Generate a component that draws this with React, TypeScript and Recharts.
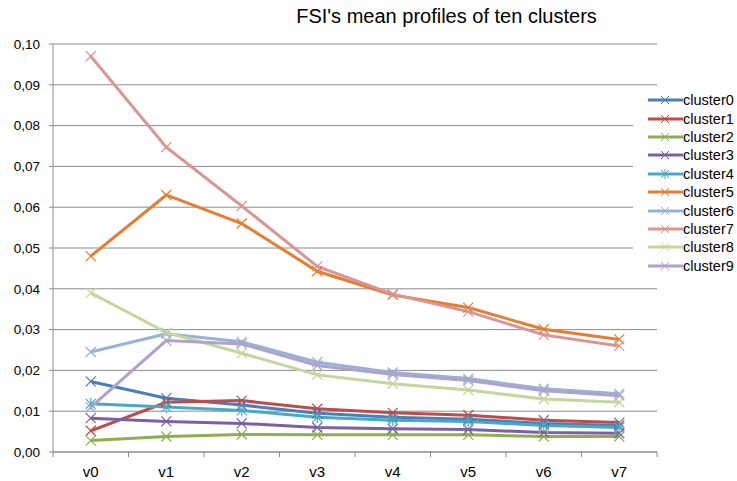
import { LineChart, Line, XAxis, YAxis, CartesianGrid } from "recharts";

// categories + one array per cluster
const categories = ["v0", "v1", "v2", "v3", "v4", "v5", "v6", "v7"];
const cluster0 = [0.0173, 0.0132, 0.0115, 0.0095, 0.0085, 0.008, 0.007, 0.0065];
const cluster1 = [0.0052, 0.0122, 0.0126, 0.0106, 0.0096, 0.009, 0.0078, 0.0072];
const cluster2 = [0.0028, 0.0038, 0.0043, 0.0042, 0.0042, 0.0042, 0.0038, 0.0038];
const cluster3 = [0.0083, 0.0075, 0.007, 0.006, 0.0057, 0.0055, 0.0048, 0.0046];
const cluster4 = [0.0118, 0.011, 0.0102, 0.0085, 0.0078, 0.0075, 0.0065, 0.006];
const cluster5 = [0.048, 0.063, 0.056, 0.0443, 0.0385, 0.0354, 0.0301, 0.0276];
const cluster6 = [0.0245, 0.029, 0.027, 0.022, 0.0195, 0.018, 0.0155, 0.0143];
const cluster7 = [0.097, 0.0747, 0.0603, 0.0455, 0.0387, 0.0344, 0.0287, 0.026];
const cluster8 = [0.039, 0.0293, 0.0242, 0.0189, 0.0167, 0.0152, 0.013, 0.0122];
const cluster9 = [0.011, 0.0273, 0.0265, 0.0212, 0.019, 0.0175, 0.015, 0.0138];
const yTicks = [0, 0.01, 0.02, 0.03, 0.04, 0.05, 0.06, 0.07, 0.08, 0.09, 0.1];

const series = [
  { name: "cluster0", values: cluster0, color: "#4A7EBB" },
  { name: "cluster1", values: cluster1, color: "#BE4B48" },
  { name: "cluster2", values: cluster2, color: "#8DB04E" },
  { name: "cluster3", values: cluster3, color: "#7D60A0" },
  { name: "cluster4", values: cluster4, color: "#46AAC5", star: true },
  { name: "cluster5", values: cluster5, color: "#E57D32" },
  { name: "cluster6", values: cluster6, color: "#95B3D7" },
  { name: "cluster7", values: cluster7, color: "#D99694" },
  { name: "cluster8", values: cluster8, color: "#C3D69B" },
  { name: "cluster9", values: cluster9, color: "#B3A2C7" },
];

const data = categories.map((c, i) => {
  const row: any = { name: c };
  series.forEach((s) => (row[s.name] = s.values[i]));
  return row;
});

const font = "'Liberation Sans', Arial, sans-serif";
const axisGray = "#8C8C8C";

// Excel style "x" marker (cluster4 gets the asterisk)
const makeDot = (color: string, star?: boolean) => (props: any) => {
  const { cx, cy, index } = props;
  const r = 5;
  return (
    <g key={`dot-${index}`} stroke={color} strokeWidth={1.2} fill="none">
      <line x1={cx - r} y1={cy - r} x2={cx + r} y2={cy + r} />
      <line x1={cx - r} y1={cy + r} x2={cx + r} y2={cy - r} />
      {star && <line x1={cx} y1={cy - r - 1} x2={cx} y2={cy + r + 1} />}
    </g>
  );
};

// category label in the middle, tick marks on the band edges
const XTick = (props: any) => {
  const { x, y, payload, index, visibleTicksCount } = props;
  const off = payload.offset || 0;
  return (
    <g>
      <line x1={x - off} y1={y} x2={x - off} y2={y + 5} stroke={axisGray} />
      {index === visibleTicksCount - 1 && (
        <line x1={x + off} y1={y} x2={x + off} y2={y + 5} stroke={axisGray} />
      )}
      <text x={x} y={y + 25} textAnchor="middle" fill="#000" fontSize={15} fontFamily={font}>
        {payload.value}
      </text>
    </g>
  );
};

const LegendBox = () => (
  <div
    style={{
      position: "absolute",
      left: 633,
      top: 88,
      width: 104,
      background: "#fff",
      padding: "3px 0 6px 15px",
      boxSizing: "border-box",
      fontFamily: font,
      fontSize: 14.5,
    }}
  >
    {series.map((s) => (
      <div key={s.name} style={{ display: "flex", alignItems: "center", height: 18.4 }}>
        <svg width={35} height={12} style={{ flex: "none" }}>
          <line x1={0} y1={6} x2={35} y2={6} stroke={s.color} strokeWidth={3} />
          <line x1={13} y1={2} x2={21} y2={10} stroke={s.color} strokeWidth={1} />
          <line x1={13} y1={10} x2={21} y2={2} stroke={s.color} strokeWidth={1} />
          {s.star && <line x1={17} y1={1} x2={17} y2={11} stroke={s.color} strokeWidth={1} />}
        </svg>
        <span style={{ color: "#000", whiteSpace: "nowrap" }}>{s.name}</span>
      </div>
    ))}
  </div>
);

export default function App() {
  return (
    <div style={{ position: "absolute", left: 0, top: 0, width: 737, height: 481, background: "#fff" }}>
      <div
        style={{
          position: "absolute",
          top: 5,
          left: 0,
          width: 893,
          textAlign: "center",
          fontFamily: font,
          fontSize: 20,
          color: "#000",
        }}
      >
        FSI's mean profiles of ten clusters
      </div>
      <LineChart width={737} height={481} data={data} margin={{ top: 44, right: 80, bottom: 0, left: 0 }}>
        <CartesianGrid vertical={false} stroke={axisGray} strokeWidth={1} />
        <XAxis
          dataKey="name"
          scale="band"
          height={29}
          axisLine={{ stroke: axisGray }}
          tickLine={false}
          tickSize={0}
          tickMargin={0}
          tick={<XTick />}
          interval={0}
        />
        <YAxis
          width={53}
          domain={[0, 0.1]}
          ticks={yTicks}
          interval={0}
          tickFormatter={(v: number) => v.toFixed(2).replace(".", ",")}
          axisLine={{ stroke: axisGray }}
          tickLine={{ stroke: axisGray }}
          tickSize={4}
          tickMargin={9}
          tick={{ fill: "#000", fontSize: 13.5, fontFamily: font }}
        />
        {series.map((s) => (
          <Line
            key={s.name}
            type="linear"
            dataKey={s.name}
            stroke={s.color}
            strokeWidth={3}
            dot={makeDot(s.color, s.star)}
            activeDot={false}
            isAnimationActive={false}
          />
        ))}
      </LineChart>
      <LegendBox />
    </div>
  );
}
